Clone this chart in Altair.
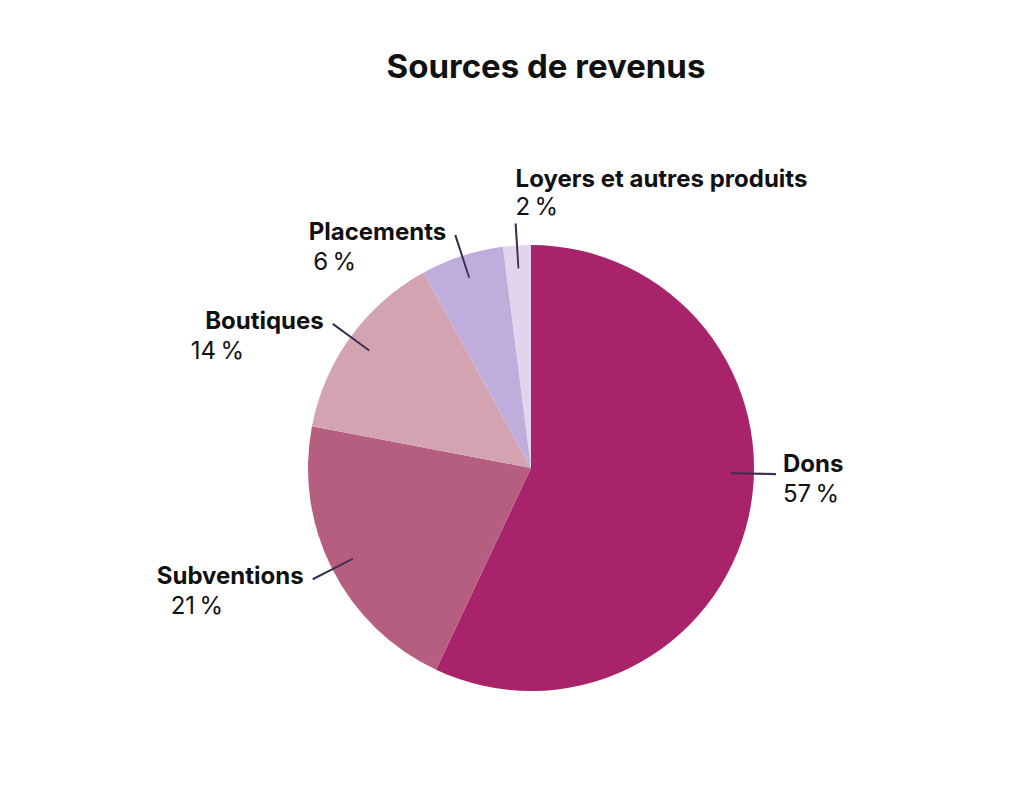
import altair as alt
import pandas as pd

names = ["Dons", "Subventions", "Boutiques", "Placements", "Loyers et autres produits"]
values = [57, 21, 14, 6, 2]
colors = ["#A8236A", "#B65E80", "#D4A3B2", "#BFAEDB", "#E0D5EC"]

df = pd.DataFrame({"name": names, "value": values, "idx": list(range(len(names)))})

FONT = "Inter"
TXT = "#111111"
LEAD = "#3b2e4f"

base = alt.Chart(df).transform_window(
    cum="sum(value)", sort=[alt.SortField("idx")]
).transform_calculate(
    mid="datum.cum - datum.value / 2",
).transform_calculate(
    lead="abs(datum.mid - 25) < 5 ? 25.4 : datum.mid",
    pct="datum.value + '\u2009%'",
).transform_calculate(
    l0="datum.lead - 0.07",
    l1="datum.lead + 0.07",
    side="datum.lead > 97 ? 'top' : (datum.lead < 50 ? 'right' : 'left')",
)

tscale = alt.Scale(domain=[0, 100])

pie = alt.Chart(df).mark_arc(outerRadius=223).encode(
    theta=alt.Theta("value:Q", stack=True, scale=tscale),
    color=alt.Color("name:N", scale=alt.Scale(domain=names, range=colors), legend=None),
    order=alt.Order("idx:Q"),
)

leaders = base.mark_arc(innerRadius=200, outerRadius=245, color=LEAD).encode(
    theta=alt.Theta("l0:Q", scale=tscale, stack=None),
    theta2="l1:Q",
)

def txt(side, field, bold, align, dx, dy):
    return base.transform_filter(f"datum.side == '{side}'").mark_text(
        radius=245, align=align, baseline="alphabetic", dx=dx, dy=dy,
        font=FONT, fontSize=24, fontWeight="bold" if bold else "normal", color=TXT,
    ).encode(
        theta=alt.Theta("lead:Q", scale=tscale, stack=None),
        text=alt.Text(f"{field}:N"),
    )

texts = [
    txt("right", "name", True, "left", 7, -2),
    txt("right", "pct", False, "left", 7, 28),
    txt("left", "name", True, "right", -9, 5),
    txt("left", "pct", False, "left", -142, 35),
    txt("top", "name", True, "left", 0, -36),
    txt("top", "pct", False, "left", 0, -8),
]

chart = alt.layer(pie, leaders, *texts).properties(
    width=900,
    height=600,
    padding={"left": 73, "top": 160, "right": 30, "bottom": 30},
    autosize=alt.AutoSizeParams(type="none"),
    title=alt.TitleParams(
        "Sources de revenus", font=FONT, fontSize=33, fontWeight="bold",
        color=TXT, anchor="middle", dx=15, offset=50, baseline="bottom",
    ),
).configure_view(stroke=None).configure(background="white")

chart.save("out.html", embed_options={"renderer": "svg", "actions": False})
